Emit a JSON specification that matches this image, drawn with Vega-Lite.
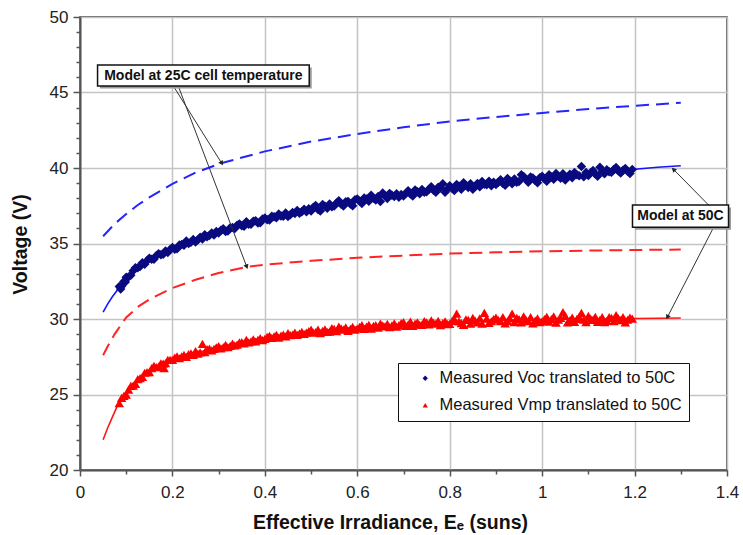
{
"$schema":"https://vega.github.io/schema/vega-lite/v6.json",
"width":647,"height":453,"autosize":"none",
"padding":{"left":80,"top":17,"right":16,"bottom":65},
"background":"white",
"config":{"view":{"stroke":"#333","strokeWidth":1.5},
"axis":{"labelFont":"Liberation Sans","labelFontSize":17,"labelColor":"#222","titleFont":"Liberation Sans","titleFontSize":19.5,"titleFontWeight":"bold","titleColor":"#111","gridColor":"#c4c4c4","gridWidth":1.5,"tickColor":"#555","tickWidth":1.5,"domainColor":"#555","domainWidth":2,"labelOverlap":false,"labelFlush":false}},
"encoding":{
  "x":{"field":"x","type":"quantitative","scale":{"domain":[0,1.4],"nice":false,"zero":false},
   "axis":{"title":"Effective Irradiance, Eₑ (suns)","values":[0,0.1,0.2,0.3,0.4,0.5,0.6,0.7,0.8,0.9,1,1.1,1.2,1.3,1.4],
    "labelExpr":"round(datum.value*10) % 2 === 0 ? format(datum.value, '~g') : ''",
    "tickSize":{"condition":{"test":"round(datum.value*10) % 2 === 0","value":6},"value":4},
    "gridOpacity":{"condition":{"test":"round(datum.value*10) % 2 === 0","value":1},"value":0},
    "labelPadding":8,"titleX":310,"titleY":58,"titleBaseline":"alphabetic"}},
  "y":{"field":"v","type":"quantitative","scale":{"domain":[20,50],"nice":false,"zero":false},
   "axis":{"title":"Voltage (V)","values":[20,21,22,23,24,25,26,27,28,29,30,31,32,33,34,35,36,37,38,39,40,41,42,43,44,45,46,47,48,49,50],
    "labelExpr":"datum.value % 5 === 0 ? datum.label : ''",
    "tickSize":{"condition":{"test":"datum.value % 5 === 0","value":7},"value":4},
    "gridOpacity":{"condition":{"test":"datum.value % 5 === 0","value":1},"value":0},
    "labelPadding":5,"titleX":-54,"titleY":227,"titleAngle":-90,"titleBaseline":"alphabetic","titleAlign":"center"}}},
"datasets":{
"meas":[
{"x":0.085,"v":32.16,"s":"Measured Voc translated to 50C"},{"x":0.088,"v":31.98,"s":"Measured Voc translated to 50C"},{"x":0.09,"v":32.17,"s":"Measured Voc translated to 50C"},{"x":0.095,"v":32.49,"s":"Measured Voc translated to 50C"},{"x":0.098,"v":32.45,"s":"Measured Voc translated to 50C"},{"x":0.1,"v":32.77,"s":"Measured Voc translated to 50C"},{"x":0.105,"v":32.78,"s":"Measured Voc translated to 50C"},{"x":0.11,"v":32.89,"s":"Measured Voc translated to 50C"},{"x":0.115,"v":33.2,"s":"Measured Voc translated to 50C"},{"x":0.12,"v":33.39,"s":"Measured Voc translated to 50C"},{"x":0.125,"v":33.39,"s":"Measured Voc translated to 50C"},{"x":0.13,"v":33.47,"s":"Measured Voc translated to 50C"},{"x":0.135,"v":33.72,"s":"Measured Voc translated to 50C"},{"x":0.14,"v":33.63,"s":"Measured Voc translated to 50C"},{"x":0.145,"v":33.85,"s":"Measured Voc translated to 50C"},{"x":0.15,"v":34.03,"s":"Measured Voc translated to 50C"},{"x":0.155,"v":33.95,"s":"Measured Voc translated to 50C"},{"x":0.16,"v":33.95,"s":"Measured Voc translated to 50C"},{"x":0.165,"v":34.19,"s":"Measured Voc translated to 50C"},{"x":0.17,"v":34.32,"s":"Measured Voc translated to 50C"},{"x":0.175,"v":34.26,"s":"Measured Voc translated to 50C"},{"x":0.18,"v":34.28,"s":"Measured Voc translated to 50C"},{"x":0.185,"v":34.51,"s":"Measured Voc translated to 50C"},{"x":0.19,"v":34.41,"s":"Measured Voc translated to 50C"},{"x":0.195,"v":34.61,"s":"Measured Voc translated to 50C"},
{"x":0.2,"v":34.74,"s":"Measured Voc translated to 50C"},{"x":0.205,"v":34.62,"s":"Measured Voc translated to 50C"},{"x":0.21,"v":34.66,"s":"Measured Voc translated to 50C"},{"x":0.215,"v":34.9,"s":"Measured Voc translated to 50C"},{"x":0.22,"v":34.93,"s":"Measured Voc translated to 50C"},{"x":0.225,"v":34.88,"s":"Measured Voc translated to 50C"},{"x":0.23,"v":35.17,"s":"Measured Voc translated to 50C"},{"x":0.235,"v":35.0,"s":"Measured Voc translated to 50C"},{"x":0.24,"v":35.08,"s":"Measured Voc translated to 50C"},{"x":0.245,"v":35.27,"s":"Measured Voc translated to 50C"},{"x":0.25,"v":35.1,"s":"Measured Voc translated to 50C"},{"x":0.255,"v":35.24,"s":"Measured Voc translated to 50C"},{"x":0.26,"v":35.42,"s":"Measured Voc translated to 50C"},{"x":0.265,"v":35.3,"s":"Measured Voc translated to 50C"},{"x":0.27,"v":35.58,"s":"Measured Voc translated to 50C"},{"x":0.275,"v":35.45,"s":"Measured Voc translated to 50C"},{"x":0.28,"v":35.53,"s":"Measured Voc translated to 50C"},{"x":0.285,"v":35.7,"s":"Measured Voc translated to 50C"},{"x":0.29,"v":35.57,"s":"Measured Voc translated to 50C"},{"x":0.295,"v":35.8,"s":"Measured Voc translated to 50C"},
{"x":0.3,"v":35.69,"s":"Measured Voc translated to 50C"},{"x":0.31,"v":35.97,"s":"Measured Voc translated to 50C"},{"x":0.32,"v":35.82,"s":"Measured Voc translated to 50C"},{"x":0.33,"v":36.06,"s":"Measured Voc translated to 50C"},{"x":0.34,"v":36.21,"s":"Measured Voc translated to 50C"},{"x":0.35,"v":36.18,"s":"Measured Voc translated to 50C"},{"x":0.36,"v":36.44,"s":"Measured Voc translated to 50C"},{"x":0.37,"v":36.28,"s":"Measured Voc translated to 50C"},{"x":0.38,"v":36.51,"s":"Measured Voc translated to 50C"},{"x":0.39,"v":36.38,"s":"Measured Voc translated to 50C"},
{"x":0.305,"v":35.88,"s":"Measured Voc translated to 50C"},{"x":0.315,"v":35.8,"s":"Measured Voc translated to 50C"},{"x":0.325,"v":36.05,"s":"Measured Voc translated to 50C"},{"x":0.335,"v":36.0,"s":"Measured Voc translated to 50C"},{"x":0.345,"v":36.3,"s":"Measured Voc translated to 50C"},{"x":0.355,"v":36.15,"s":"Measured Voc translated to 50C"},{"x":0.365,"v":36.28,"s":"Measured Voc translated to 50C"},{"x":0.375,"v":36.48,"s":"Measured Voc translated to 50C"},{"x":0.385,"v":36.36,"s":"Measured Voc translated to 50C"},{"x":0.395,"v":36.62,"s":"Measured Voc translated to 50C"},
{"x":0.4,"v":36.69,"s":"Measured Voc translated to 50C"},{"x":0.41,"v":36.55,"s":"Measured Voc translated to 50C"},{"x":0.42,"v":36.77,"s":"Measured Voc translated to 50C"},{"x":0.43,"v":36.95,"s":"Measured Voc translated to 50C"},{"x":0.44,"v":36.81,"s":"Measured Voc translated to 50C"},{"x":0.45,"v":36.78,"s":"Measured Voc translated to 50C"},{"x":0.46,"v":37.06,"s":"Measured Voc translated to 50C"},{"x":0.47,"v":37.18,"s":"Measured Voc translated to 50C"},{"x":0.48,"v":37.1,"s":"Measured Voc translated to 50C"},{"x":0.49,"v":37.1,"s":"Measured Voc translated to 50C"},
{"x":0.405,"v":36.58,"s":"Measured Voc translated to 50C"},{"x":0.415,"v":36.8,"s":"Measured Voc translated to 50C"},{"x":0.425,"v":36.7,"s":"Measured Voc translated to 50C"},{"x":0.435,"v":36.82,"s":"Measured Voc translated to 50C"},{"x":0.445,"v":37.02,"s":"Measured Voc translated to 50C"},{"x":0.455,"v":36.9,"s":"Measured Voc translated to 50C"},{"x":0.465,"v":36.98,"s":"Measured Voc translated to 50C"},{"x":0.475,"v":37.0,"s":"Measured Voc translated to 50C"},{"x":0.485,"v":37.27,"s":"Measured Voc translated to 50C"},{"x":0.495,"v":37.3,"s":"Measured Voc translated to 50C"},
{"x":0.5,"v":37.15,"s":"Measured Voc translated to 50C"},{"x":0.51,"v":37.51,"s":"Measured Voc translated to 50C"},{"x":0.52,"v":37.16,"s":"Measured Voc translated to 50C"},{"x":0.53,"v":37.47,"s":"Measured Voc translated to 50C"},{"x":0.54,"v":37.62,"s":"Measured Voc translated to 50C"},{"x":0.55,"v":37.48,"s":"Measured Voc translated to 50C"},{"x":0.56,"v":37.83,"s":"Measured Voc translated to 50C"},{"x":0.57,"v":37.49,"s":"Measured Voc translated to 50C"},{"x":0.58,"v":37.79,"s":"Measured Voc translated to 50C"},{"x":0.59,"v":37.5,"s":"Measured Voc translated to 50C"},
{"x":0.505,"v":37.4,"s":"Measured Voc translated to 50C"},{"x":0.515,"v":37.25,"s":"Measured Voc translated to 50C"},{"x":0.525,"v":37.58,"s":"Measured Voc translated to 50C"},{"x":0.535,"v":37.33,"s":"Measured Voc translated to 50C"},{"x":0.545,"v":37.44,"s":"Measured Voc translated to 50C"},{"x":0.555,"v":37.68,"s":"Measured Voc translated to 50C"},{"x":0.565,"v":37.6,"s":"Measured Voc translated to 50C"},{"x":0.575,"v":37.76,"s":"Measured Voc translated to 50C"},{"x":0.585,"v":37.62,"s":"Measured Voc translated to 50C"},{"x":0.595,"v":37.9,"s":"Measured Voc translated to 50C"},
{"x":0.6,"v":37.95,"s":"Measured Voc translated to 50C"},{"x":0.61,"v":37.65,"s":"Measured Voc translated to 50C"},{"x":0.62,"v":37.94,"s":"Measured Voc translated to 50C"},{"x":0.63,"v":38.19,"s":"Measured Voc translated to 50C"},{"x":0.64,"v":37.88,"s":"Measured Voc translated to 50C"},{"x":0.65,"v":37.78,"s":"Measured Voc translated to 50C"},{"x":0.655,"v":38.35,"s":"Measured Voc translated to 50C"},{"x":0.66,"v":38.17,"s":"Measured Voc translated to 50C"},{"x":0.67,"v":38.32,"s":"Measured Voc translated to 50C"},{"x":0.68,"v":38.11,"s":"Measured Voc translated to 50C"},{"x":0.69,"v":38.06,"s":"Measured Voc translated to 50C"},
{"x":0.605,"v":37.82,"s":"Measured Voc translated to 50C"},{"x":0.615,"v":38.02,"s":"Measured Voc translated to 50C"},{"x":0.625,"v":37.8,"s":"Measured Voc translated to 50C"},{"x":0.635,"v":38.0,"s":"Measured Voc translated to 50C"},{"x":0.645,"v":38.12,"s":"Measured Voc translated to 50C"},{"x":0.665,"v":37.98,"s":"Measured Voc translated to 50C"},{"x":0.675,"v":38.2,"s":"Measured Voc translated to 50C"},{"x":0.685,"v":38.3,"s":"Measured Voc translated to 50C"},{"x":0.695,"v":38.25,"s":"Measured Voc translated to 50C"},
{"x":0.7,"v":38.15,"s":"Measured Voc translated to 50C"},{"x":0.71,"v":38.49,"s":"Measured Voc translated to 50C"},{"x":0.72,"v":38.14,"s":"Measured Voc translated to 50C"},{"x":0.73,"v":38.43,"s":"Measured Voc translated to 50C"},{"x":0.74,"v":38.57,"s":"Measured Voc translated to 50C"},{"x":0.75,"v":38.42,"s":"Measured Voc translated to 50C"},{"x":0.76,"v":38.76,"s":"Measured Voc translated to 50C"},{"x":0.77,"v":38.4,"s":"Measured Voc translated to 50C"},{"x":0.78,"v":38.69,"s":"Measured Voc translated to 50C"},{"x":0.785,"v":38.95,"s":"Measured Voc translated to 50C"},{"x":0.79,"v":38.39,"s":"Measured Voc translated to 50C"},
{"x":0.705,"v":38.32,"s":"Measured Voc translated to 50C"},{"x":0.715,"v":38.28,"s":"Measured Voc translated to 50C"},{"x":0.725,"v":38.55,"s":"Measured Voc translated to 50C"},{"x":0.735,"v":38.3,"s":"Measured Voc translated to 50C"},{"x":0.745,"v":38.4,"s":"Measured Voc translated to 50C"},{"x":0.755,"v":38.6,"s":"Measured Voc translated to 50C"},{"x":0.765,"v":38.52,"s":"Measured Voc translated to 50C"},{"x":0.775,"v":38.72,"s":"Measured Voc translated to 50C"},{"x":0.795,"v":38.6,"s":"Measured Voc translated to 50C"},
{"x":0.8,"v":38.83,"s":"Measured Voc translated to 50C"},{"x":0.81,"v":38.51,"s":"Measured Voc translated to 50C"},{"x":0.82,"v":38.79,"s":"Measured Voc translated to 50C"},{"x":0.83,"v":39.03,"s":"Measured Voc translated to 50C"},{"x":0.84,"v":38.71,"s":"Measured Voc translated to 50C"},{"x":0.85,"v":38.59,"s":"Measured Voc translated to 50C"},{"x":0.86,"v":38.97,"s":"Measured Voc translated to 50C"},{"x":0.87,"v":39.1,"s":"Measured Voc translated to 50C"},{"x":0.88,"v":38.89,"s":"Measured Voc translated to 50C"},{"x":0.89,"v":38.82,"s":"Measured Voc translated to 50C"},
{"x":0.805,"v":38.66,"s":"Measured Voc translated to 50C"},{"x":0.815,"v":38.9,"s":"Measured Voc translated to 50C"},{"x":0.825,"v":38.6,"s":"Measured Voc translated to 50C"},{"x":0.835,"v":38.85,"s":"Measured Voc translated to 50C"},{"x":0.845,"v":38.95,"s":"Measured Voc translated to 50C"},{"x":0.855,"v":38.78,"s":"Measured Voc translated to 50C"},{"x":0.865,"v":38.75,"s":"Measured Voc translated to 50C"},{"x":0.875,"v":38.92,"s":"Measured Voc translated to 50C"},{"x":0.885,"v":39.12,"s":"Measured Voc translated to 50C"},{"x":0.895,"v":39.05,"s":"Measured Voc translated to 50C"},
{"x":0.9,"v":38.9,"s":"Measured Voc translated to 50C"},{"x":0.91,"v":39.23,"s":"Measured Voc translated to 50C"},{"x":0.92,"v":38.86,"s":"Measured Voc translated to 50C"},{"x":0.93,"v":39.14,"s":"Measured Voc translated to 50C"},{"x":0.94,"v":39.27,"s":"Measured Voc translated to 50C"},{"x":0.95,"v":39.1,"s":"Measured Voc translated to 50C"},{"x":0.955,"v":39.55,"s":"Measured Voc translated to 50C"},{"x":0.96,"v":39.43,"s":"Measured Voc translated to 50C"},{"x":0.97,"v":39.06,"s":"Measured Voc translated to 50C"},{"x":0.98,"v":39.34,"s":"Measured Voc translated to 50C"},{"x":0.99,"v":39.02,"s":"Measured Voc translated to 50C"},
{"x":0.905,"v":39.06,"s":"Measured Voc translated to 50C"},{"x":0.915,"v":38.98,"s":"Measured Voc translated to 50C"},{"x":0.925,"v":39.3,"s":"Measured Voc translated to 50C"},{"x":0.935,"v":38.96,"s":"Measured Voc translated to 50C"},{"x":0.945,"v":39.05,"s":"Measured Voc translated to 50C"},{"x":0.965,"v":39.25,"s":"Measured Voc translated to 50C"},{"x":0.975,"v":39.4,"s":"Measured Voc translated to 50C"},{"x":0.985,"v":39.18,"s":"Measured Voc translated to 50C"},{"x":0.995,"v":39.35,"s":"Measured Voc translated to 50C"},
{"x":1.0,"v":39.45,"s":"Measured Voc translated to 50C"},{"x":1.01,"v":39.13,"s":"Measured Voc translated to 50C"},{"x":1.02,"v":39.41,"s":"Measured Voc translated to 50C"},{"x":1.03,"v":39.64,"s":"Measured Voc translated to 50C"},{"x":1.04,"v":39.32,"s":"Measured Voc translated to 50C"},{"x":1.05,"v":39.2,"s":"Measured Voc translated to 50C"},{"x":1.06,"v":39.58,"s":"Measured Voc translated to 50C"},{"x":1.07,"v":39.71,"s":"Measured Voc translated to 50C"},{"x":1.08,"v":39.49,"s":"Measured Voc translated to 50C"},{"x":1.085,"v":40.1,"s":"Measured Voc translated to 50C"},{"x":1.09,"v":39.42,"s":"Measured Voc translated to 50C"},
{"x":1.005,"v":39.28,"s":"Measured Voc translated to 50C"},{"x":1.015,"v":39.55,"s":"Measured Voc translated to 50C"},{"x":1.025,"v":39.25,"s":"Measured Voc translated to 50C"},{"x":1.035,"v":39.45,"s":"Measured Voc translated to 50C"},{"x":1.045,"v":39.62,"s":"Measured Voc translated to 50C"},{"x":1.055,"v":39.4,"s":"Measured Voc translated to 50C"},{"x":1.065,"v":39.35,"s":"Measured Voc translated to 50C"},{"x":1.075,"v":39.55,"s":"Measured Voc translated to 50C"},{"x":1.095,"v":39.7,"s":"Measured Voc translated to 50C"},
{"x":1.1,"v":39.5,"s":"Measured Voc translated to 50C"},{"x":1.11,"v":39.83,"s":"Measured Voc translated to 50C"},{"x":1.12,"v":39.46,"s":"Measured Voc translated to 50C"},{"x":1.125,"v":40.05,"s":"Measured Voc translated to 50C"},{"x":1.13,"v":39.75,"s":"Measured Voc translated to 50C"},{"x":1.14,"v":39.88,"s":"Measured Voc translated to 50C"},{"x":1.15,"v":39.71,"s":"Measured Voc translated to 50C"},{"x":1.16,"v":40.04,"s":"Measured Voc translated to 50C"},{"x":1.17,"v":39.67,"s":"Measured Voc translated to 50C"},{"x":1.18,"v":39.96,"s":"Measured Voc translated to 50C"},{"x":1.19,"v":39.64,"s":"Measured Voc translated to 50C"},{"x":1.195,"v":39.9,"s":"Measured Voc translated to 50C"},
{"x":1.105,"v":39.68,"s":"Measured Voc translated to 50C"},{"x":1.115,"v":39.6,"s":"Measured Voc translated to 50C"},{"x":1.135,"v":39.62,"s":"Measured Voc translated to 50C"},{"x":1.145,"v":39.75,"s":"Measured Voc translated to 50C"},{"x":1.155,"v":39.9,"s":"Measured Voc translated to 50C"},{"x":1.165,"v":39.8,"s":"Measured Voc translated to 50C"},{"x":1.175,"v":39.85,"s":"Measured Voc translated to 50C"},{"x":1.185,"v":39.78,"s":"Measured Voc translated to 50C"},
{"x":0.085,"v":24.42,"s":"Measured Vmp translated to 50C"},{"x":0.09,"v":24.78,"s":"Measured Vmp translated to 50C"},{"x":0.095,"v":24.91,"s":"Measured Vmp translated to 50C"},{"x":0.1,"v":24.99,"s":"Measured Vmp translated to 50C"},{"x":0.105,"v":25.33,"s":"Measured Vmp translated to 50C"},{"x":0.11,"v":25.57,"s":"Measured Vmp translated to 50C"},{"x":0.115,"v":25.59,"s":"Measured Vmp translated to 50C"},{"x":0.12,"v":25.7,"s":"Measured Vmp translated to 50C"},{"x":0.125,"v":26.02,"s":"Measured Vmp translated to 50C"},{"x":0.13,"v":26.08,"s":"Measured Vmp translated to 50C"},{"x":0.135,"v":26.17,"s":"Measured Vmp translated to 50C"},{"x":0.14,"v":26.44,"s":"Measured Vmp translated to 50C"},{"x":0.145,"v":26.48,"s":"Measured Vmp translated to 50C"},{"x":0.15,"v":26.48,"s":"Measured Vmp translated to 50C"},{"x":0.155,"v":26.75,"s":"Measured Vmp translated to 50C"},{"x":0.16,"v":26.89,"s":"Measured Vmp translated to 50C"},{"x":0.165,"v":26.82,"s":"Measured Vmp translated to 50C"},{"x":0.17,"v":26.84,"s":"Measured Vmp translated to 50C"},{"x":0.175,"v":27.07,"s":"Measured Vmp translated to 50C"},{"x":0.18,"v":27.05,"s":"Measured Vmp translated to 50C"},{"x":0.182,"v":26.75,"s":"Measured Vmp translated to 50C"},{"x":0.185,"v":27.08,"s":"Measured Vmp translated to 50C"},{"x":0.19,"v":27.3,"s":"Measured Vmp translated to 50C"},{"x":0.195,"v":27.29,"s":"Measured Vmp translated to 50C"},
{"x":0.2,"v":27.29,"s":"Measured Vmp translated to 50C"},{"x":0.205,"v":27.45,"s":"Measured Vmp translated to 50C"},{"x":0.21,"v":27.53,"s":"Measured Vmp translated to 50C"},{"x":0.215,"v":27.4,"s":"Measured Vmp translated to 50C"},{"x":0.22,"v":27.53,"s":"Measured Vmp translated to 50C"},{"x":0.225,"v":27.62,"s":"Measured Vmp translated to 50C"},{"x":0.23,"v":27.49,"s":"Measured Vmp translated to 50C"},{"x":0.235,"v":27.68,"s":"Measured Vmp translated to 50C"},{"x":0.24,"v":27.73,"s":"Measured Vmp translated to 50C"},{"x":0.245,"v":27.62,"s":"Measured Vmp translated to 50C"},{"x":0.25,"v":27.87,"s":"Measured Vmp translated to 50C"},{"x":0.255,"v":27.7,"s":"Measured Vmp translated to 50C"},{"x":0.26,"v":27.79,"s":"Measured Vmp translated to 50C"},{"x":0.265,"v":28.35,"s":"Measured Vmp translated to 50C"},{"x":0.27,"v":27.81,"s":"Measured Vmp translated to 50C"},{"x":0.275,"v":28.0,"s":"Measured Vmp translated to 50C"},{"x":0.28,"v":28.04,"s":"Measured Vmp translated to 50C"},{"x":0.285,"v":27.92,"s":"Measured Vmp translated to 50C"},{"x":0.29,"v":28.02,"s":"Measured Vmp translated to 50C"},{"x":0.295,"v":28.12,"s":"Measured Vmp translated to 50C"},
{"x":0.3,"v":28.2,"s":"Measured Vmp translated to 50C"},{"x":0.31,"v":28.14,"s":"Measured Vmp translated to 50C"},{"x":0.32,"v":28.14,"s":"Measured Vmp translated to 50C"},{"x":0.33,"v":28.37,"s":"Measured Vmp translated to 50C"},{"x":0.34,"v":28.31,"s":"Measured Vmp translated to 50C"},{"x":0.35,"v":28.47,"s":"Measured Vmp translated to 50C"},{"x":0.36,"v":28.62,"s":"Measured Vmp translated to 50C"},{"x":0.37,"v":28.52,"s":"Measured Vmp translated to 50C"},{"x":0.38,"v":28.51,"s":"Measured Vmp translated to 50C"},{"x":0.39,"v":28.73,"s":"Measured Vmp translated to 50C"},
{"x":0.305,"v":28.05,"s":"Measured Vmp translated to 50C"},{"x":0.315,"v":28.28,"s":"Measured Vmp translated to 50C"},{"x":0.325,"v":28.22,"s":"Measured Vmp translated to 50C"},{"x":0.335,"v":28.25,"s":"Measured Vmp translated to 50C"},{"x":0.345,"v":28.45,"s":"Measured Vmp translated to 50C"},{"x":0.355,"v":28.38,"s":"Measured Vmp translated to 50C"},{"x":0.365,"v":28.45,"s":"Measured Vmp translated to 50C"},{"x":0.375,"v":28.66,"s":"Measured Vmp translated to 50C"},{"x":0.385,"v":28.62,"s":"Measured Vmp translated to 50C"},{"x":0.395,"v":28.6,"s":"Measured Vmp translated to 50C"},
{"x":0.4,"v":28.69,"s":"Measured Vmp translated to 50C"},{"x":0.41,"v":28.89,"s":"Measured Vmp translated to 50C"},{"x":0.42,"v":28.85,"s":"Measured Vmp translated to 50C"},{"x":0.43,"v":28.77,"s":"Measured Vmp translated to 50C"},{"x":0.44,"v":28.97,"s":"Measured Vmp translated to 50C"},{"x":0.45,"v":29.07,"s":"Measured Vmp translated to 50C"},{"x":0.46,"v":28.96,"s":"Measured Vmp translated to 50C"},{"x":0.47,"v":28.95,"s":"Measured Vmp translated to 50C"},{"x":0.48,"v":29.15,"s":"Measured Vmp translated to 50C"},{"x":0.49,"v":29.1,"s":"Measured Vmp translated to 50C"},
{"x":0.405,"v":28.82,"s":"Measured Vmp translated to 50C"},{"x":0.415,"v":28.75,"s":"Measured Vmp translated to 50C"},{"x":0.425,"v":28.95,"s":"Measured Vmp translated to 50C"},{"x":0.435,"v":28.9,"s":"Measured Vmp translated to 50C"},{"x":0.445,"v":28.85,"s":"Measured Vmp translated to 50C"},{"x":0.455,"v":28.93,"s":"Measured Vmp translated to 50C"},{"x":0.465,"v":29.1,"s":"Measured Vmp translated to 50C"},{"x":0.475,"v":29.05,"s":"Measured Vmp translated to 50C"},{"x":0.485,"v":29.02,"s":"Measured Vmp translated to 50C"},{"x":0.495,"v":29.2,"s":"Measured Vmp translated to 50C"},
{"x":0.5,"v":29.29,"s":"Measured Vmp translated to 50C"},{"x":0.51,"v":29.14,"s":"Measured Vmp translated to 50C"},{"x":0.52,"v":29.07,"s":"Measured Vmp translated to 50C"},{"x":0.53,"v":29.32,"s":"Measured Vmp translated to 50C"},{"x":0.54,"v":29.17,"s":"Measured Vmp translated to 50C"},{"x":0.55,"v":29.34,"s":"Measured Vmp translated to 50C"},{"x":0.56,"v":29.5,"s":"Measured Vmp translated to 50C"},{"x":0.57,"v":29.29,"s":"Measured Vmp translated to 50C"},{"x":0.58,"v":29.22,"s":"Measured Vmp translated to 50C"},{"x":0.59,"v":29.48,"s":"Measured Vmp translated to 50C"},
{"x":0.505,"v":29.1,"s":"Measured Vmp translated to 50C"},{"x":0.515,"v":29.3,"s":"Measured Vmp translated to 50C"},{"x":0.525,"v":29.22,"s":"Measured Vmp translated to 50C"},{"x":0.535,"v":29.15,"s":"Measured Vmp translated to 50C"},{"x":0.545,"v":29.4,"s":"Measured Vmp translated to 50C"},{"x":0.555,"v":29.2,"s":"Measured Vmp translated to 50C"},{"x":0.565,"v":29.38,"s":"Measured Vmp translated to 50C"},{"x":0.575,"v":29.45,"s":"Measured Vmp translated to 50C"},{"x":0.585,"v":29.35,"s":"Measured Vmp translated to 50C"},{"x":0.595,"v":29.3,"s":"Measured Vmp translated to 50C"},
{"x":0.6,"v":29.37,"s":"Measured Vmp translated to 50C"},{"x":0.61,"v":29.6,"s":"Measured Vmp translated to 50C"},{"x":0.62,"v":29.5,"s":"Measured Vmp translated to 50C"},{"x":0.63,"v":29.36,"s":"Measured Vmp translated to 50C"},{"x":0.64,"v":29.6,"s":"Measured Vmp translated to 50C"},{"x":0.65,"v":29.7,"s":"Measured Vmp translated to 50C"},{"x":0.66,"v":29.51,"s":"Measured Vmp translated to 50C"},{"x":0.67,"v":29.46,"s":"Measured Vmp translated to 50C"},{"x":0.68,"v":29.71,"s":"Measured Vmp translated to 50C"},{"x":0.69,"v":29.6,"s":"Measured Vmp translated to 50C"},
{"x":0.605,"v":29.48,"s":"Measured Vmp translated to 50C"},{"x":0.615,"v":29.35,"s":"Measured Vmp translated to 50C"},{"x":0.625,"v":29.62,"s":"Measured Vmp translated to 50C"},{"x":0.635,"v":29.55,"s":"Measured Vmp translated to 50C"},{"x":0.645,"v":29.42,"s":"Measured Vmp translated to 50C"},{"x":0.655,"v":29.58,"s":"Measured Vmp translated to 50C"},{"x":0.665,"v":29.68,"s":"Measured Vmp translated to 50C"},{"x":0.675,"v":29.58,"s":"Measured Vmp translated to 50C"},{"x":0.685,"v":29.5,"s":"Measured Vmp translated to 50C"},{"x":0.695,"v":29.72,"s":"Measured Vmp translated to 50C"},
{"x":0.7,"v":29.79,"s":"Measured Vmp translated to 50C"},{"x":0.71,"v":29.63,"s":"Measured Vmp translated to 50C"},{"x":0.72,"v":29.54,"s":"Measured Vmp translated to 50C"},{"x":0.73,"v":29.78,"s":"Measured Vmp translated to 50C"},{"x":0.74,"v":29.61,"s":"Measured Vmp translated to 50C"},{"x":0.75,"v":29.77,"s":"Measured Vmp translated to 50C"},{"x":0.76,"v":29.91,"s":"Measured Vmp translated to 50C"},{"x":0.77,"v":29.69,"s":"Measured Vmp translated to 50C"},{"x":0.78,"v":29.6,"s":"Measured Vmp translated to 50C"},{"x":0.79,"v":29.85,"s":"Measured Vmp translated to 50C"},
{"x":0.705,"v":29.55,"s":"Measured Vmp translated to 50C"},{"x":0.715,"v":29.82,"s":"Measured Vmp translated to 50C"},{"x":0.725,"v":29.7,"s":"Measured Vmp translated to 50C"},{"x":0.735,"v":29.62,"s":"Measured Vmp translated to 50C"},{"x":0.745,"v":29.86,"s":"Measured Vmp translated to 50C"},{"x":0.755,"v":29.65,"s":"Measured Vmp translated to 50C"},{"x":0.765,"v":29.75,"s":"Measured Vmp translated to 50C"},{"x":0.775,"v":29.88,"s":"Measured Vmp translated to 50C"},{"x":0.785,"v":29.72,"s":"Measured Vmp translated to 50C"},{"x":0.795,"v":29.66,"s":"Measured Vmp translated to 50C"},
{"x":0.8,"v":29.68,"s":"Measured Vmp translated to 50C"},{"x":0.81,"v":29.99,"s":"Measured Vmp translated to 50C"},{"x":0.815,"v":30.35,"s":"Measured Vmp translated to 50C"},{"x":0.82,"v":29.84,"s":"Measured Vmp translated to 50C"},{"x":0.83,"v":29.61,"s":"Measured Vmp translated to 50C"},{"x":0.84,"v":29.94,"s":"Measured Vmp translated to 50C"},{"x":0.85,"v":30.07,"s":"Measured Vmp translated to 50C"},{"x":0.86,"v":29.78,"s":"Measured Vmp translated to 50C"},{"x":0.87,"v":29.69,"s":"Measured Vmp translated to 50C"},{"x":0.875,"v":30.4,"s":"Measured Vmp translated to 50C"},{"x":0.88,"v":30.02,"s":"Measured Vmp translated to 50C"},{"x":0.89,"v":29.85,"s":"Measured Vmp translated to 50C"},
{"x":0.805,"v":29.88,"s":"Measured Vmp translated to 50C"},{"x":0.825,"v":29.72,"s":"Measured Vmp translated to 50C"},{"x":0.835,"v":29.98,"s":"Measured Vmp translated to 50C"},{"x":0.845,"v":29.7,"s":"Measured Vmp translated to 50C"},{"x":0.855,"v":29.9,"s":"Measured Vmp translated to 50C"},{"x":0.865,"v":30.05,"s":"Measured Vmp translated to 50C"},{"x":0.885,"v":29.75,"s":"Measured Vmp translated to 50C"},{"x":0.895,"v":30.0,"s":"Measured Vmp translated to 50C"},
{"x":0.9,"v":30.1,"s":"Measured Vmp translated to 50C"},{"x":0.91,"v":29.85,"s":"Measured Vmp translated to 50C"},{"x":0.92,"v":29.71,"s":"Measured Vmp translated to 50C"},{"x":0.93,"v":30.04,"s":"Measured Vmp translated to 50C"},{"x":0.935,"v":30.35,"s":"Measured Vmp translated to 50C"},{"x":0.94,"v":29.79,"s":"Measured Vmp translated to 50C"},{"x":0.95,"v":29.99,"s":"Measured Vmp translated to 50C"},{"x":0.96,"v":30.18,"s":"Measured Vmp translated to 50C"},{"x":0.97,"v":29.85,"s":"Measured Vmp translated to 50C"},{"x":0.98,"v":29.71,"s":"Measured Vmp translated to 50C"},{"x":0.99,"v":30.04,"s":"Measured Vmp translated to 50C"},
{"x":0.905,"v":29.95,"s":"Measured Vmp translated to 50C"},{"x":0.915,"v":30.12,"s":"Measured Vmp translated to 50C"},{"x":0.925,"v":29.86,"s":"Measured Vmp translated to 50C"},{"x":0.945,"v":30.08,"s":"Measured Vmp translated to 50C"},{"x":0.955,"v":29.78,"s":"Measured Vmp translated to 50C"},{"x":0.965,"v":29.95,"s":"Measured Vmp translated to 50C"},{"x":0.975,"v":30.12,"s":"Measured Vmp translated to 50C"},{"x":0.985,"v":29.9,"s":"Measured Vmp translated to 50C"},{"x":0.995,"v":29.8,"s":"Measured Vmp translated to 50C"},
{"x":1.0,"v":29.85,"s":"Measured Vmp translated to 50C"},{"x":1.01,"v":30.15,"s":"Measured Vmp translated to 50C"},{"x":1.02,"v":30.0,"s":"Measured Vmp translated to 50C"},{"x":1.03,"v":29.76,"s":"Measured Vmp translated to 50C"},{"x":1.04,"v":30.08,"s":"Measured Vmp translated to 50C"},{"x":1.045,"v":30.45,"s":"Measured Vmp translated to 50C"},{"x":1.05,"v":30.21,"s":"Measured Vmp translated to 50C"},{"x":1.06,"v":29.91,"s":"Measured Vmp translated to 50C"},{"x":1.07,"v":29.81,"s":"Measured Vmp translated to 50C"},{"x":1.08,"v":30.14,"s":"Measured Vmp translated to 50C"},{"x":1.085,"v":30.4,"s":"Measured Vmp translated to 50C"},{"x":1.09,"v":29.96,"s":"Measured Vmp translated to 50C"},
{"x":1.005,"v":30.0,"s":"Measured Vmp translated to 50C"},{"x":1.015,"v":29.82,"s":"Measured Vmp translated to 50C"},{"x":1.025,"v":30.18,"s":"Measured Vmp translated to 50C"},{"x":1.035,"v":29.95,"s":"Measured Vmp translated to 50C"},{"x":1.055,"v":29.78,"s":"Measured Vmp translated to 50C"},{"x":1.065,"v":30.1,"s":"Measured Vmp translated to 50C"},{"x":1.075,"v":30.0,"s":"Measured Vmp translated to 50C"},{"x":1.095,"v":29.8,"s":"Measured Vmp translated to 50C"},
{"x":1.1,"v":30.2,"s":"Measured Vmp translated to 50C"},{"x":1.11,"v":29.94,"s":"Measured Vmp translated to 50C"},{"x":1.12,"v":29.81,"s":"Measured Vmp translated to 50C"},{"x":1.13,"v":30.13,"s":"Measured Vmp translated to 50C"},{"x":1.14,"v":29.87,"s":"Measured Vmp translated to 50C"},{"x":1.15,"v":30.07,"s":"Measured Vmp translated to 50C"},{"x":1.16,"v":30.26,"s":"Measured Vmp translated to 50C"},{"x":1.17,"v":29.92,"s":"Measured Vmp translated to 50C"},{"x":1.18,"v":29.78,"s":"Measured Vmp translated to 50C"},{"x":1.19,"v":30.1,"s":"Measured Vmp translated to 50C"},{"x":1.195,"v":30.02,"s":"Measured Vmp translated to 50C"},
{"x":1.105,"v":30.02,"s":"Measured Vmp translated to 50C"},{"x":1.115,"v":30.15,"s":"Measured Vmp translated to 50C"},{"x":1.125,"v":29.95,"s":"Measured Vmp translated to 50C"},{"x":1.135,"v":29.8,"s":"Measured Vmp translated to 50C"},{"x":1.145,"v":30.12,"s":"Measured Vmp translated to 50C"},{"x":1.155,"v":29.85,"s":"Measured Vmp translated to 50C"},{"x":1.165,"v":30.05,"s":"Measured Vmp translated to 50C"},{"x":1.175,"v":30.12,"s":"Measured Vmp translated to 50C"},{"x":1.185,"v":29.95,"s":"Measured Vmp translated to 50C"}
],
"curves":[
{"c":"voc25","x":0.05,"v":35.48},{"c":"voc25","x":0.075,"v":36.3},{"c":"voc25","x":0.1,"v":36.95},{"c":"voc25","x":0.125,"v":37.55},{"c":"voc25","x":0.15,"v":38.05},{"c":"voc25","x":0.2,"v":38.95},{"c":"voc25","x":0.25,"v":39.7},{"c":"voc25","x":0.307,"v":40.33},{"c":"voc25","x":0.4,"v":41.1},{"c":"voc25","x":0.5,"v":41.75},{"c":"voc25","x":0.6,"v":42.25},{"c":"voc25","x":0.7,"v":42.7},{"c":"voc25","x":0.8,"v":43.08},{"c":"voc25","x":0.9,"v":43.38},{"c":"voc25","x":1.0,"v":43.65},{"c":"voc25","x":1.1,"v":43.9},{"c":"voc25","x":1.2,"v":44.12},{"c":"voc25","x":1.3,"v":44.32},
{"c":"vmp25","x":0.05,"v":27.6},{"c":"vmp25","x":0.06,"v":28.2},{"c":"vmp25","x":0.075,"v":29.0},{"c":"vmp25","x":0.1,"v":30.1},{"c":"vmp25","x":0.125,"v":30.8},{"c":"vmp25","x":0.15,"v":31.3},{"c":"vmp25","x":0.2,"v":32.05},{"c":"vmp25","x":0.25,"v":32.6},{"c":"vmp25","x":0.3,"v":33.05},{"c":"vmp25","x":0.36,"v":33.45},{"c":"vmp25","x":0.4,"v":33.6},{"c":"vmp25","x":0.5,"v":33.85},{"c":"vmp25","x":0.6,"v":34.05},{"c":"vmp25","x":0.7,"v":34.2},{"c":"vmp25","x":0.8,"v":34.33},{"c":"vmp25","x":0.9,"v":34.42},{"c":"vmp25","x":1.0,"v":34.48},{"c":"vmp25","x":1.1,"v":34.53},{"c":"vmp25","x":1.2,"v":34.57},{"c":"vmp25","x":1.3,"v":34.6},
{"c":"voc50","x":0.05,"v":30.45},{"c":"voc50","x":0.06,"v":31.0},{"c":"voc50","x":0.07,"v":31.47},{"c":"voc50","x":0.083,"v":32.0},{"c":"voc50","x":0.1,"v":32.65},{"c":"voc50","x":0.111,"v":33.05},{"c":"voc50","x":0.13,"v":33.55},{"c":"voc50","x":0.155,"v":34.0},{"c":"voc50","x":0.2,"v":34.65},{"c":"voc50","x":0.25,"v":35.25},{"c":"voc50","x":0.3,"v":35.75},{"c":"voc50","x":0.4,"v":36.6},{"c":"voc50","x":0.5,"v":37.25},{"c":"voc50","x":0.6,"v":37.8},{"c":"voc50","x":0.7,"v":38.25},{"c":"voc50","x":0.8,"v":38.68},{"c":"voc50","x":0.9,"v":39.0},{"c":"voc50","x":1.0,"v":39.3},{"c":"voc50","x":1.1,"v":39.6},{"c":"voc50","x":1.2,"v":39.92},{"c":"voc50","x":1.25,"v":40.05},{"c":"voc50","x":1.3,"v":40.15},
{"c":"vmp50","x":0.05,"v":22.0},{"c":"vmp50","x":0.06,"v":22.8},{"c":"vmp50","x":0.07,"v":23.5},{"c":"vmp50","x":0.083,"v":24.4},{"c":"vmp50","x":0.1,"v":25.1},{"c":"vmp50","x":0.111,"v":25.5},{"c":"vmp50","x":0.13,"v":26.1},{"c":"vmp50","x":0.155,"v":26.7},{"c":"vmp50","x":0.2,"v":27.35},{"c":"vmp50","x":0.25,"v":27.76},{"c":"vmp50","x":0.3,"v":28.1},{"c":"vmp50","x":0.4,"v":28.75},{"c":"vmp50","x":0.5,"v":29.15},{"c":"vmp50","x":0.6,"v":29.45},{"c":"vmp50","x":0.7,"v":29.65},{"c":"vmp50","x":0.8,"v":29.8},{"c":"vmp50","x":0.9,"v":29.9},{"c":"vmp50","x":1.0,"v":29.97},{"c":"vmp50","x":1.1,"v":30.0},{"c":"vmp50","x":1.2,"v":30.03},{"c":"vmp50","x":1.3,"v":30.07}
],
"boxes":[
{"x":0.038,"x2":0.496,"v":45.43,"v2":46.82},
{"x":1.1955,"x2":1.4033,"v":36.07,"v2":37.55}
],
"labels":[
{"x":0.267,"v":46.12,"label":"Model at 25C cell temperature"},
{"x":1.2994,"v":36.8,"label":"Model at 50C"}
],
"arrows":[
{"x":0.202,"v":45.43,"x2":0.3067,"v2":40.31},
{"x":0.213,"v":45.4,"x2":0.3608,"v2":33.46},
{"x":1.36,"v":37.55,"x2":1.2842,"v2":39.91},
{"x":1.371,"v":36.07,"x2":1.271,"v2":30.12}
],
"heads":[
{"x":0.3067,"v":40.31,"angle":148},
{"x":0.3608,"v":33.46,"angle":159},
{"x":1.2842,"v":39.91,"angle":316},
{"x":1.271,"v":30.12,"angle":207}
]
},
"layer":[
{"data":{"name":"curves"},"transform":[{"filter":"datum.c === 'voc25'"}],
 "mark":{"type":"line","color":"#2424ff","strokeWidth":2,"strokeDash":[13,7]}},
{"data":{"name":"curves"},"transform":[{"filter":"datum.c === 'vmp25'"}],
 "mark":{"type":"line","color":"#ff2424","strokeWidth":2,"strokeDash":[13,7]}},
{"data":{"name":"curves"},"transform":[{"filter":"datum.c === 'voc50'"}],
 "mark":{"type":"line","color":"#1515ff","strokeWidth":1.6}},
{"data":{"name":"curves"},"transform":[{"filter":"datum.c === 'vmp50'"}],
 "mark":{"type":"line","color":"#ff1515","strokeWidth":1.6}},
{"data":{"name":"meas"},
 "mark":{"type":"point","filled":true,"size":90,"opacity":1},
 "encoding":{
  "color":{"field":"s","type":"nominal","scale":{"domain":["Measured Voc translated to 50C","Measured Vmp translated to 50C"],"range":["#0a0a80","#ff0000"]},
   "legend":{"orient":"none","legendX":318,"legendY":346,"title":null,"strokeColor":"#111","fillColor":"white","padding":7,"labelFont":"Liberation Sans","labelFontSize":16.5,"labelColor":"#111","labelLimit":400,"symbolSize":28,"symbolOffset":12,"labelOffset":6,"rowPadding":10,"symbolStrokeWidth":0}},
  "shape":{"field":"s","type":"nominal","scale":{"domain":["Measured Voc translated to 50C","Measured Vmp translated to 50C"],"range":["diamond","triangle-up"]},
   "legend":{"orient":"none","legendX":318,"legendY":346,"title":null,"strokeColor":"#111","fillColor":"white","padding":7,"labelFont":"Liberation Sans","labelFontSize":16.5,"labelColor":"#111","labelLimit":400,"symbolSize":28,"symbolOffset":12,"labelOffset":6,"rowPadding":10,"symbolStrokeWidth":0}}}},
{"data":{"name":"arrows"},
 "mark":{"type":"rule","color":"#333","strokeWidth":1},
 "encoding":{"x2":{"field":"x2"},"y2":{"field":"v2"}}},
{"data":{"name":"heads"},
 "mark":{"type":"point","shape":"triangle-up","filled":true,"size":28,"color":"#222","opacity":1},
 "encoding":{"angle":{"field":"angle","type":"quantitative","scale":null}}},
{"data":{"name":"boxes"},
 "mark":{"type":"rect","fill":"#9a9a9a","xOffset":2.5,"x2Offset":2.5,"yOffset":2.5,"y2Offset":2.5},
 "encoding":{"x2":{"field":"x2"},"y2":{"field":"v2"}}},
{"data":{"name":"boxes"},
 "mark":{"type":"rect","fill":"white","stroke":"#111","strokeWidth":1.5},
 "encoding":{"x2":{"field":"x2"},"y2":{"field":"v2"}}},
{"data":{"name":"labels"},
 "mark":{"type":"text","font":"Liberation Sans","fontSize":14,"fontWeight":"bold","color":"#111","align":"center","baseline":"middle"},
 "encoding":{"text":{"field":"label"}}}
]
}
